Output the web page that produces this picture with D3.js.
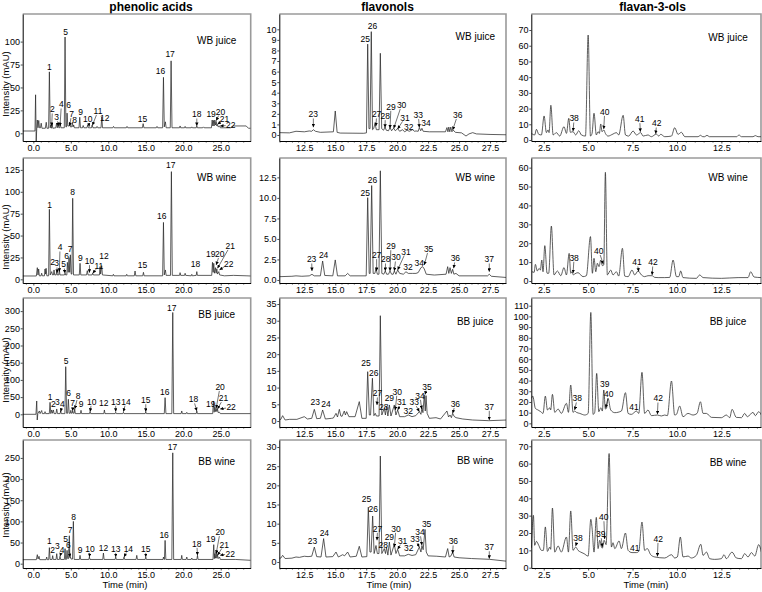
<!DOCTYPE html>
<html><head><meta charset="utf-8">
<script src="https://cdn.jsdelivr.net/npm/d3@7"></script>
<style>
body{margin:0;background:#fff}
svg{display:block}
text{font-family:"Liberation Sans",Arial,sans-serif}
</style></head><body>
<svg id="chart" width="762" height="592"></svg>
<script>
// ---------------- DATA ----------------
const columnTitles = ["phenolic acids", "flavonols", "flavan-3-ols"];
const sampleNames = ["WB juice", "WB wine", "BB juice", "BB wine"];
const xTickValues = [[0, 5, 10, 15, 20, 25], [12.5, 15, 17.5, 20, 22.5, 25, 27.5], [2.5, 5, 7.5, 10, 12.5]];
const yTickValues = [
  [[0, 25, 50, 75, 100], [0,1,2,3,4,5,6,7,8,9,10], [0,10,20,30,40,50,60,70]],
  [[0, 25, 50, 75, 100, 125], [0, 2.5, 5, 7.5, 10, 12.5], [0,10,20,30,40,50,60]],
  [[0, 50, 100, 150, 200, 250, 300], [0,5,10,15,20,25,30,35], [0,10,20,30,40,50,60,70,80,90,100,110]],
  [[0, 50, 100, 150, 200, 250], [0,5,10,15,20,25,30], [0,10,20,30,40,50,60,70]]
];

// chromatogram traces: [time (min), intensity (mAU)]
const paWBjuice = [[-1.42,2.5],[0.22,2.5],[0.3,42],[0.38,-9],[0.46,6],[0.53,14.5],[0.62,6],[0.72,14],[0.82,6],[0.95,6],[1.05,11],[1.15,5.5],[1.6,5.5],[1.72,12],[1.82,5.5],[2.04,5.5],[2.14,67],[2.25,6],[2.32,9],[2.4,5.5],[2.5,10],[2.6,5.5],[3.0,6],[3.1,11],[3.2,6],[3.3,10],[3.4,6],[3.5,6],[3.58,11],[3.68,6],[4.13,6],[4.23,105],[4.34,7],[4.43,7],[4.5,22],[4.6,8],[4.78,8],[4.86,12],[4.95,7],[5.12,7],[5.21,12],[5.3,7],[5.38,9],[5.48,6],[6.09,6],[6.19,17.5],[6.29,6],[6.55,6],[6.65,8.5],[6.75,6],[7.15,6],[7.25,9],[7.35,6],[7.75,6],[7.85,9],[7.95,6],[8.4,6],[8.5,7.5],[8.6,6],[9.03,6],[9.13,18],[9.23,6],[10.6,6],[10.7,7.5],[10.8,6],[12.4,6],[12.5,7.5],[12.6,6],[14.55,6],[14.65,10.5],[14.75,6],[16.4,6],[16.5,7.5],[16.6,6],[17.25,6],[17.36,61],[17.47,7],[17.62,12.5],[17.72,6],[18.27,6],[18.38,79],[18.5,6],[19.5,6],[19.58,8],[19.66,6],[20.17,6],[20.25,7.5],[20.33,6],[21.06,6],[21.14,7],[21.22,6],[21.73,6],[21.81,8],[21.89,6],[22.6,6],[22.7,7],[22.8,6],[23.76,6],[23.86,14.5],[23.95,8],[24.03,14],[24.12,8],[24.21,14.5],[24.3,9],[24.39,13],[24.48,8],[24.57,9.5],[24.66,7],[24.84,8],[24.95,6],[26.3,6],[26.7,8],[28.4,8],[28.7,5.5],[29.0,5.5]];
const paWBwine = [[-1.42,3.8],[0.4,3.8],[0.53,13.3],[0.62,5],[0.71,11.8],[0.8,4],[1.03,4],[1.11,7],[1.2,4],[1.48,4],[1.56,11.8],[1.63,6],[1.7,12.6],[1.8,4],[2.04,4],[2.14,80],[2.25,5],[2.45,8.8],[2.55,5],[2.68,5],[2.76,10.7],[2.85,5],[3.04,5],[3.12,9.5],[3.2,5],[3.39,5],[3.47,11],[3.55,5],[4.15,5],[4.23,7],[4.31,5],[4.47,5],[4.54,19.4],[4.65,8],[4.76,24.8],[4.85,8],[4.94,28],[5.05,6],[5.15,6],[5.25,92.6],[5.36,5],[6.13,5],[6.23,18.3],[6.33,5],[7.1,5],[7.2,9.9],[7.3,5],[7.84,5],[7.92,7],[8.0,5],[8.82,5],[8.9,14.5],[8.98,6],[9.12,15.6],[9.22,5],[10.6,4],[10.68,5.7],[10.76,4],[12.38,4],[12.46,5.7],[12.54,4],[13.47,4],[13.57,9.5],[13.67,4],[14.6,4],[14.69,8],[14.78,4],[17.25,4],[17.36,65],[17.47,5],[17.62,10.7],[17.72,4.5],[18.3,4.5],[18.42,123],[18.54,4.5],[19.5,4.5],[19.58,7.6],[19.66,4.5],[20.17,4.5],[20.25,6.9],[20.33,4.5],[21.06,4],[21.14,5.7],[21.22,4],[21.73,4.5],[21.81,8.8],[21.89,4.5],[23.8,4.5],[23.9,19.4],[23.99,8],[24.07,18.3],[24.17,7],[24.3,13.3],[24.39,7],[24.48,12],[24.57,6],[24.74,8.8],[24.85,5],[25.5,4],[26.7,4.5],[28.5,4],[29.0,3.8]];
const paBBjuice = [[-1.42,0],[0.35,0],[0.45,38.7],[0.52,-16.5],[0.6,2],[0.8,9.7],[0.9,2],[1.11,11],[1.2,2],[1.48,2],[1.56,7.7],[1.64,2],[2.13,2],[2.23,34.8],[2.33,2],[2.45,12.6],[2.55,3],[2.67,12.6],[2.77,2],[3.02,2],[3.12,15.5],[3.22,2],[3.57,2],[3.65,9.7],[3.73,2],[4.21,2],[4.32,138.4],[4.44,3],[4.57,3],[4.67,43.6],[4.78,3],[4.92,3],[5.0,11.6],[5.08,3],[5.17,3],[5.25,9.7],[5.33,3],[5.44,3],[5.52,15.5],[5.6,2],[6.28,2],[6.36,11.6],[6.44,2],[7.49,2],[7.57,7.7],[7.65,2],[9.4,2],[9.48,12.6],[9.56,2],[10.91,2],[10.99,6],[11.07,2],[11.94,2],[12.02,6],[12.1,2],[14.92,2],[15.0,7.7],[15.08,2],[17.47,2],[17.58,48.4],[17.69,2],[18.48,2],[18.6,296],[18.72,2],[19.72,2],[19.8,9.7],[19.88,2],[20.39,2],[20.47,5.8],[20.55,2],[21.73,2],[21.81,9.7],[21.89,2],[23.93,2],[24.03,38.7],[24.12,6],[24.21,22],[24.3,8],[24.39,17.4],[24.48,8],[24.57,15.5],[24.66,5],[24.84,6],[24.95,2],[29.0,2]];
const paBBwine = [[-1.42,9.5],[0.4,9.5],[0.53,21.3],[0.63,11],[0.76,17.4],[0.86,9.5],[1.7,9.5],[1.78,15.8],[1.86,9.5],[2.05,9.5],[2.14,37.9],[2.23,10],[2.5,10],[2.58,19],[2.66,10],[3.03,10],[3.12,23.7],[3.21,10],[3.48,10],[3.56,17.4],[3.64,10],[4.14,10],[4.23,35.5],[4.31,10],[4.4,10],[4.5,31.5],[4.58,12],[4.7,12],[4.8,66],[4.88,14],[4.95,15.8],[5.03,11],[5.23,11],[5.34,100],[5.45,10],[6.14,10],[6.23,19.7],[6.32,10],[7.4,10],[7.48,15.8],[7.56,10],[9.26,10],[9.35,25.2],[9.44,10],[10.91,10],[10.99,15.8],[11.07,10],[12.02,10],[12.1,15.8],[12.18,10],[13.71,10],[13.8,19.7],[13.89,10],[14.92,10],[15.0,15.8],[15.08,10],[17.3,10],[17.36,15.8],[17.44,10],[17.49,10],[17.58,55],[17.68,10],[18.48,10],[18.6,262],[18.72,10],[19.72,10],[19.8,19.7],[19.88,10],[20.39,10],[20.47,15.8],[20.55,10],[21.06,10],[21.14,13.4],[21.22,10],[21.82,10],[21.9,19.7],[21.98,10],[23.97,10],[24.07,45],[24.15,12],[24.21,23.7],[24.3,13],[24.39,27.6],[24.48,13],[24.57,21.3],[24.66,12],[24.84,15.8],[24.95,10],[27.0,10],[29.0,8]];

const flWBjuice = [[10.48,0.22],[11.3,0.2],[11.83,0.35],[12.5,0.3],[12.9,0.38],[13.1,0.35],[13.23,0.5],[13.4,0.35],[13.8,0.25],[14.85,0.3],[15.0,2.27],[15.15,0.25],[15.4,0.18],[17.3,0.16],[17.52,0.2],[17.62,8.6],[17.72,0.6],[17.81,0.6],[17.91,9.78],[18.01,0.5],[18.1,0.6],[18.21,1.1],[18.32,0.5],[18.54,0.5],[18.64,7.73],[18.75,0.6],[18.9,0.45],[19.02,0.75],[19.12,0.45],[19.3,0.4],[19.42,0.7],[19.55,0.4],[19.72,0.65],[19.85,0.4],[20.04,0.6],[20.2,0.35],[20.44,0.5],[20.6,0.3],[20.8,0.45],[20.98,0.35],[21.25,0.5],[21.4,0.35],[21.52,0.38],[21.7,0.35],[21.79,0.7],[21.9,0.4],[22.0,0.63],[22.1,0.35],[22.6,0.3],[23.9,0.3],[24.02,0.7],[24.1,0.3],[24.17,0.75],[24.25,0.3],[24.33,0.75],[24.42,0.3],[24.52,0.47],[24.7,0.25],[25.2,0.2],[25.56,-0.1],[25.8,0.1],[26.1,0.22],[26.4,0.1],[27.5,0.05],[28.84,0.02]];
const flWBwine = [[10.48,0.4],[11.5,0.45],[11.83,0.5],[12.3,0.45],[12.9,0.5],[13.12,0.69],[13.3,0.5],[13.8,0.5],[13.98,2.31],[14.15,0.55],[14.8,0.5],[15.0,2.44],[15.18,0.5],[15.8,0.5],[16.0,0.8],[16.2,0.5],[17.5,0.5],[17.62,10.03],[17.74,0.8],[17.82,0.8],[17.94,11.5],[18.06,0.8],[18.2,0.8],[18.29,1.4],[18.4,0.7],[18.53,0.7],[18.64,13.3],[18.76,0.8],[18.92,0.7],[19.04,1.1],[19.15,0.7],[19.3,0.7],[19.42,1.1],[19.55,0.7],[19.68,0.7],[19.77,1.1],[19.9,0.7],[20.04,1.22],[20.2,0.8],[20.5,0.7],[20.71,1.0],[20.9,0.8],[21.25,0.8],[21.52,0.8],[21.7,0.9],[21.92,1.5],[22.06,1.62],[22.19,1.34],[22.35,0.7],[23.0,0.6],[23.95,0.7],[24.08,1.62],[24.17,0.8],[24.27,1.5],[24.38,0.8],[24.48,1.3],[24.58,0.7],[24.75,0.8],[25.0,0.5],[27.3,0.5],[27.44,0.7],[27.6,0.45],[28.84,0.3]];
const flBBjuice = [[10.48,0.3],[10.6,0.5],[10.75,1.6],[10.95,0.3],[11.3,0.5],[11.9,0.5],[12.5,1.3],[12.75,0.6],[13.1,0.8],[13.31,3.5],[13.5,0.7],[13.8,0.8],[13.98,3.3],[14.2,0.6],[14.7,0.8],[14.85,0.9],[15.06,2.3],[15.18,1.2],[15.33,3.5],[15.45,1.5],[15.55,1.4],[15.73,3.0],[15.82,1.8],[15.92,2.8],[16.1,1.3],[16.6,1.3],[16.94,5.8],[17.15,0.8],[17.5,0.8],[17.62,14.76],[17.75,1.8],[17.85,1.8],[18.0,12.8],[18.12,1.6],[18.23,2.3],[18.32,1.5],[18.54,1.5],[18.64,31.5],[18.76,1.8],[18.96,3.8],[19.05,1.8],[19.14,4.3],[19.25,1.5],[19.37,4.8],[19.5,1.5],[19.77,4.8],[19.9,1.8],[20.04,3.3],[20.2,1.3],[20.6,1.3],[20.9,1.8],[21.2,1.3],[21.5,1.6],[21.79,2.8],[21.92,2.0],[22.0,4.0],[22.08,2.5],[22.19,7.8],[22.27,3.0],[22.33,7.6],[22.42,2.3],[22.6,0.8],[23.14,1.0],[23.5,0.6],[24.02,3.0],[24.15,1.2],[24.27,1.8],[24.38,1.0],[24.48,2.3],[24.6,1.4],[24.75,1.0],[25.3,0.6],[26.1,0.3],[27.4,0.1],[28.84,0.3]];
const flBBwine = [[10.48,1.0],[10.6,1.0],[10.75,1.74],[10.95,0.9],[11.5,1.0],[11.83,1.3],[12.1,1.2],[12.5,1.5],[12.8,1.4],[13.1,1.5],[13.31,3.9],[13.5,1.4],[13.85,1.3],[14.06,6.1],[14.25,1.3],[14.8,1.4],[15.06,2.6],[15.25,1.3],[15.6,1.9],[15.75,1.6],[16.0,2.6],[16.2,1.3],[16.7,1.5],[16.94,4.1],[17.15,1.3],[17.55,1.4],[17.67,14.3],[17.8,2.6],[17.9,2.6],[18.02,12.0],[18.14,2.2],[18.29,4.3],[18.4,2.2],[18.53,2.2],[18.64,27.65],[18.76,2.2],[18.96,3.5],[19.06,2.2],[19.14,3.8],[19.25,1.8],[19.37,5.2],[19.5,1.8],[19.77,4.6],[19.9,2.2],[20.04,3.3],[20.2,1.6],[20.6,1.6],[20.9,2.0],[21.2,1.7],[21.5,1.9],[21.79,3.9],[21.92,2.6],[22.0,4.3],[22.1,3.2],[22.25,8.5],[22.35,2.6],[22.5,1.6],[23.2,1.5],[23.9,1.3],[24.08,3.5],[24.2,1.3],[24.35,1.6],[24.48,2.6],[24.6,1.3],[25.0,1.1],[26.0,0.9],[27.44,0.7],[28.84,0.2]];

const faWBjuice = [[1.81,4.2],[1.99,3.2],[2.09,6.8],[2.22,3.6],[2.37,3.2],[2.52,15.3],[2.65,4.7],[2.74,6.4],[2.8,4.7],[2.9,22.1],[3.03,3.2],[3.21,4.7],[3.4,2.5],[3.64,8.5],[3.78,4.2],[3.91,13.8],[4.0,4.9],[4.15,5.3],[4.3,3.2],[4.47,5.9],[4.62,3.2],[4.85,2.5],[5.0,66.8],[5.13,2.5],[5.22,4.2],[5.33,17],[5.46,3.2],[5.56,5.3],[5.63,4.2],[5.71,10.2],[5.78,5.3],[5.88,6.4],[5.97,4.2],[6.12,2.5],[6.4,3.8],[6.59,4.7],[6.72,3.2],[6.97,15.7],[7.1,3.2],[7.28,2.5],[7.53,5.7],[7.72,3.2],[7.96,4.7],[8.09,2.5],[8.37,3.2],[8.56,2.1],[8.84,3.8],[8.97,2.5],[9.09,3.6],[9.31,2.1],[9.69,2.5],[9.87,7.8],[10.06,3.6],[10.25,4.9],[10.44,2.1],[11.19,2.1],[11.32,3.0],[11.45,2.1],[11.56,2.1],[11.69,3.0],[11.82,2.1],[13.36,2.1],[13.49,3.2],[13.63,2.1],[14.28,2.1],[14.41,2.8],[14.56,2.1],[14.75,2.1]];
const faWBwine = [[1.84,4.9],[1.96,4.6],[2.03,8.8],[2.14,5.3],[2.24,6.7],[2.31,5.8],[2.39,11.1],[2.46,4.9],[2.56,18.7],[2.69,4.1],[2.78,4.1],[2.93,29.1],[3.08,3.2],[3.27,5.3],[3.46,2.8],[3.64,7.1],[3.78,3.2],[3.93,14.6],[4.02,4.1],[4.09,4.9],[4.17,3.2],[4.24,3.7],[4.43,4.4],[4.71,2.3],[4.9,2.8],[5.13,23.5],[5.24,4.1],[5.33,12],[5.43,4.9],[5.52,9.4],[5.61,7.6],[5.71,11.1],[5.8,8.1],[5.88,8.5],[5.97,57.5],[6.08,3.2],[6.27,5.8],[6.4,3.2],[6.59,4.9],[6.72,2.6],[6.93,17.3],[7.06,2.6],[7.25,2.3],[7.47,5.8],[7.62,3.2],[7.81,5.3],[8.0,3.2],[8.18,2.3],[8.37,2.8],[8.6,2.8],[8.75,1.9],[8.94,1.8],[9.31,1.8],[9.59,1.9],[9.78,11.1],[9.97,2.3],[10.1,2.3],[10.21,5.3],[10.34,1.8],[11.09,1.4],[11.28,3.2],[11.47,1.8],[12.5,1.4],[13.44,1.8],[14.0,1.8],[14.15,4.9],[14.34,2.1],[14.75,1.8]];
const faBBjuice = [[1.81,23.4],[1.88,25.5],[2.03,14],[2.18,12.5],[2.33,10.9],[2.46,9.3],[2.59,25.5],[2.71,12.5],[2.84,14.6],[2.89,12.5],[2.99,27.1],[3.12,10.3],[3.31,13.4],[3.49,9.3],[3.78,18.7],[3.89,10.3],[4.02,35.8],[4.15,10.3],[4.24,11.5],[4.34,10.3],[4.53,9.3],[4.81,7.8],[5.0,9.3],[5.15,103.7],[5.28,8.4],[5.37,10.3],[5.48,46.7],[5.6,10.9],[5.71,14.6],[5.8,11.5],[5.88,31.2],[5.97,13.4],[6.03,14],[6.12,23.4],[6.27,12.5],[6.5,10],[6.87,11.5],[7.1,28.7],[7.25,9.3],[7.43,8.4],[7.72,11.5],[7.85,9.3],[8.03,47.7],[8.18,9.3],[8.37,12.5],[8.56,7.2],[8.9,7.8],[9.12,6.9],[9.31,7.8],[9.46,7.2],[9.69,39.6],[9.87,7.8],[9.97,8.4],[10.15,16.2],[10.34,6.2],[10.62,9.3],[10.9,7.8],[11.13,9.3],[11.32,20.2],[11.47,9.3],[11.66,9.3],[11.94,5.6],[12.5,5.3],[12.78,7.8],[12.97,5.3],[13.1,13.1],[13.34,5.6],[13.63,5.3],[13.81,9.3],[13.96,6.2],[14.28,10.3],[14.41,7.2],[14.6,10.9],[14.75,7.8]];
const faBBwine = [[1.81,11.5],[1.92,30.2],[1.99,12.9],[2.09,15.2],[2.22,12.9],[2.37,10],[2.48,10],[2.59,23.5],[2.71,9.4],[2.84,11.9],[2.89,10.6],[2.99,34.4],[3.12,9],[3.31,12.5],[3.49,9],[3.78,17.7],[3.89,9],[4.02,32.7],[4.15,10],[4.3,11.9],[4.43,10],[4.58,9],[4.77,8.1],[5.0,6.7],[5.15,27.9],[5.22,22.9],[5.33,9],[5.46,29],[5.56,11],[5.65,15.8],[5.75,11.9],[5.8,11.3],[5.9,15.8],[6.01,13.3],[6.18,65.8],[6.31,11.9],[6.4,14.4],[6.5,11],[6.74,15.4],[6.87,11],[7.1,20],[7.25,10],[7.47,8.7],[7.72,8.7],[7.85,9.4],[8.03,26.3],[8.18,10],[8.33,11],[8.52,7.5],[8.75,6.2],[9.31,5.6],[9.69,7.5],[9.87,5.6],[10.02,6.2],[10.19,17.7],[10.34,6.2],[10.62,6.7],[10.81,5.6],[11.09,7.1],[11.34,13.5],[11.47,7.1],[11.66,9],[11.84,5.2],[12.12,4.8],[12.5,5.2],[12.65,7.5],[12.78,5.2],[13.1,9],[13.34,5.6],[13.63,5.2],[13.81,8.1],[14.0,6.2],[14.19,8.7],[14.38,6.7],[14.6,13.3],[14.75,9]];

// peak annotations: [number, label time, label intensity, pointer time, pointer intensity]
const pkPaWBjuice = [["1",2.14,72.7,null,null],["2",2.54,26.2,2.45,8],["3",3.12,17.5,3.34,8],["4",3.74,31.6,3.56,8],["5",4.32,110,null,null],["6",4.72,31,null,null],["7",5.1,21,4.85,8],["8",5.5,14,null,null],["9",6.3,23.6,null,null],["10",7.25,15.3,7.48,7.3],["11",8.63,24.4,7.88,8.7],["12",9.52,17,null,null],["15",14.55,16,null,null],["16",16.96,68,null,null],["17",18.25,86.5,null,null],["18",21.81,20.7,21.81,8],["19",23.72,20.7,null,null],["20",24.97,23.6,24.39,13.8],["21",25.5,15.3,24.57,9.8],["22",26.35,8.7,24.92,8]];
const pkPaWBwine = [["1",2.18,85,null,null],["2",2.58,20.2,null,null],["3",3.12,18.3,3.2,7.6],["4",3.56,36.6,3.47,8.8],["5",4.05,17.1,4.23,6.9],["6",4.45,26.7,null,null],["7",4.9,34.3,null,null],["8",5.25,99.4,null,null],["9",6.28,24,null,null],["10",7.5,21,7.48,7.6],["11",8.75,15.5,7.92,6.9],["12",9.43,26.7,null,null],["15",14.55,16.4,null,null],["16",17.13,72.8,null,null],["17",18.34,130.7,null,null],["18",21.63,17.5,null,null],["19",23.68,29,null,null],["20",24.88,29,24.39,16.4],["21",26.26,38,24.57,12.6],["22",26.08,17.9,24.83,10.7]];
const pkPaBBjuice = [["1",2.23,51,null,null],["2",2.67,29,null,null],["3",3.2,35,null,null],["4",3.87,29,3.65,7.7],["5",4.36,155,null,null],["6",4.72,61,null,null],["7",5.25,32,5.25,9.7],["8",5.96,53,5.52,15.5],["9",6.36,29,null,null],["10",7.79,36.8,7.57,7.7],["12",9.39,32,null,null],["13",10.99,36.8,10.99,7.7],["14",12.37,36.8,12.02,7.7],["15",15.0,41.6,15.0,7.7],["16",17.53,66,null,null],["17",18.47,308,null,null],["18",21.36,43.6,21.81,9.7],["19",23.68,29,null,null],["20",24.92,80,24.39,17.4],["21",25.37,46.5,24.57,15.5],["22",26.39,20.3,24.92,15.5]];
const pkPaBBwine = [["1",2.14,52.8,null,null],["2",2.58,31.5,null,null],["3",3.2,41.8,null,null],["4",3.83,33,3.56,17.4],["5",4.32,59,null,null],["6",4.67,43.4,4.9,15.8],["7",4.9,80,null,null],["8",5.38,110,null,null],["9",6.23,31.5,null,null],["10",7.57,35.5,7.48,15.8],["12",9.35,37,null,null],["13",10.99,35.5,10.99,15.8],["14",12.68,35.5,12.1,15.8],["15",15.0,35.5,15.0,15.8],["16",17.45,68.6,null,null],["17",18.56,276,null,null],["18",21.81,47.3,21.9,19.7],["19",23.68,59,null,null],["20",24.92,75,24.39,23.7],["21",25.46,45,24.57,19.7],["22",26.26,23.7,24.92,19.7]];
const pkFlWBjuice = [["23",13.23,1.96,13.23,0.73],["25",17.43,9.1,null,null],["26",18.0,10.3,null,null],["27",18.34,1.96,18.29,0.85],["28",19.04,1.8,19.02,0.7],["29",19.5,2.68,19.42,0.63],["30",20.36,2.84,19.72,0.63],["31",20.63,1.64,20.04,0.57],["32",20.93,0.79,null,null],["33",21.71,1.9,21.79,0.7],["34",22.33,1.1,null,null],["36",24.89,1.9,24.48,0.47]];
const pkFlWBwine = [["23",13.09,2.52,13.12,1.1],["24",14.06,3.05,null,null],["25",17.43,10.6,null,null],["26",18.0,12.2,null,null],["27",18.34,3.05,18.34,1.1],["28",19.07,2.52,19.04,1.1],["29",19.5,4.14,19.42,1.1],["30",19.9,2.76,19.77,1.1],["31",20.71,3.45,20.04,1.22],["32",20.87,1.54,null,null],["34",21.79,2.03,null,null],["35",22.54,3.78,22.19,1.83],["36",24.7,2.64,24.56,1.42],["37",27.44,2.52,27.44,1.0]];
const pkFlBBjuice = [["23",13.39,5.8,null,null],["24",14.25,5.0,null,null],["25",17.48,17.4,null,null],["26",18.1,14.5,null,null],["27",18.42,8.3,18.37,4.8],["28",18.91,4.1,null,null],["29",19.37,6.8,null,null],["30",20.0,8.8,19.85,3.3],["31",20.36,5.6,20.04,3.3],["32",20.9,3.1,null,null],["33",21.38,5.6,21.79,2.8],["34",21.84,7.6,21.98,3.6],["35",22.41,10.3,22.25,7.9],["36",24.7,5.1,24.48,2.3],["37",27.44,4.3,27.44,0.3]];
const pkFlBBwine = [["23",13.17,5.5,null,null],["24",14.12,7.65,null,null],["25",17.53,16.3,null,null],["26",18.07,13.7,null,null],["27",18.42,8.7,18.37,5.65],["28",18.88,4.5,null,null],["29",19.37,6.5,null,null],["30",19.9,8.7,19.77,3.9],["31",20.44,5.5,20.04,3.3],["32",20.93,3.65,null,null],["33",21.44,5.9,21.79,3.9],["34",21.84,7.8,22.0,4.35],["35",22.38,10.0,null,null],["36",24.54,5.4,24.48,2.2],["37",27.44,3.9,27.44,0.87]];
const pkFaWBjuice = [["38",4.21,13.8,4.15,5.6],["40",5.93,18,5.88,7],["41",7.9,13.4,7.94,5.2],["42",8.86,10.6,8.8,3.9]];
const pkFaWBwine = [["38",4.21,12.4,4.15,4.2],["40",5.6,15.9,5.85,9],["41",7.75,9.9,7.85,5],["42",8.65,9.9,8.6,3.2]];
const pkFaBBjuice = [["38",4.39,23.4,4.24,12.5],["39",5.93,36.4,null,null],["40",6.16,27.1,5.99,14.5],["41",7.58,15.6,null,null],["42",8.94,23.4,8.9,8.5]];
const pkFaBBwine = [["38",4.43,17.1,4.3,12.5],["39",5.71,19.4,5.8,12],["40",5.88,29.2,5.93,16.5],["41",7.62,11.3,null,null],["42",8.94,16.7,8.9,6.5]];

const traces = [[paWBjuice, flWBjuice, faWBjuice],[paWBwine, flWBwine, faWBwine],[paBBjuice, flBBjuice, faBBjuice],[paBBwine, flBBwine, faBBwine]];
const peakLabels = [[pkPaWBjuice, pkFlWBjuice, pkFaWBjuice],[pkPaWBwine, pkFlWBwine, pkFaWBwine],[pkPaBBjuice, pkFlBBjuice, pkFaBBjuice],[pkPaBBwine, pkFlBBwine, pkFaBBwine]];

// ---------------- LAYOUT ----------------
const COLS = [
  {x0:22.7, x1:250.7, dom:[-1.42,29.0], minor:1, titleX:151, nameX:216.7, timeX:125, curve:d3.curveLinear},
  {x0:279.3, x1:506, dom:[10.48,28.79], minor:0.5, titleX:387.5, nameX:475.3, timeX:389, curve:d3.curveLinear},
  {x0:531.3, x1:761, dom:[1.80,14.73], minor:0.5, titleX:652.5, nameX:728, timeX:646, curve:d3.curveMonotoneX}
];
const ROWS = [{y0:14,y1:141},{y0:158,y1:283},{y0:298,y1:427},{y0:440,y1:568}];
const Y_DOM = [
  [[-8.4,130.1],[-0.57,11.45],[-0.64,80.2]],
  [[-4.2,138.6],[-0.37,14.86],[-1.06,65.1]],
  [[-36.9,338.1],[-1.79,36.8],[-3.4,117.2]],
  [[-10.2,292.4],[-1.57,31.83],[-0.17,73.6]]
];
const NAME_Y = [[40,36,37],[177.7,177.7,177.7],[314.5,321,321],[461.5,460.5,462]];
const YLAB_Y = [84,237,370,505];
const fmt1 = d3.format(".1f"), fmt0 = d3.format("d");
const NARROW = "'Liberation Sans Narrow','Liberation Sans',Arial,sans-serif";

const svg = d3.select("#chart");
const defs = svg.append("defs");
defs.append("marker").attr("id","ah").attr("viewBox","0 0 10 10").attr("refX",10).attr("refY",5)
  .attr("markerWidth",3.6).attr("markerHeight",3.4).attr("markerUnits","userSpaceOnUse").attr("orient","auto")
  .append("path").attr("d","M0,0L10,5L0,10Z").attr("fill","#000");

// column titles and axis titles
COLS.forEach((c,ci)=>{
  svg.append("text").attr("x",c.titleX).attr("y",10.5).attr("text-anchor","middle")
    .attr("font-size",12).attr("font-weight","bold").text(columnTitles[ci]);
  svg.append("text").attr("x",c.timeX).attr("y",588).attr("text-anchor","middle")
    .attr("font-size",9.5).text("Time (min)");
});
ROWS.forEach((r,ri)=>{
  svg.append("text").attr("transform",`translate(8.5,${YLAB_Y[ri]}) rotate(-90)`).attr("text-anchor","middle")
    .attr("font-size",9.5).text("Intensity (mAU)");
});

ROWS.forEach((r,ri)=>{
  COLS.forEach((c,ci)=>{
    const x = d3.scaleLinear().domain(c.dom).range([c.x0,c.x1]);
    const y = d3.scaleLinear().domain(Y_DOM[ri][ci]).range([r.y1,r.y0]);
    const g = svg.append("g");
    const cid = `clip${ri}${ci}`;
    defs.append("clipPath").attr("id",cid).append("rect")
      .attr("x",c.x0).attr("y",r.y0).attr("width",c.x1-c.x0).attr("height",r.y1-r.y0);

    // frame top/right
    g.append("path").attr("d",`M${c.x0},${r.y0}H${c.x1}V${r.y1}`).attr("fill","none")
      .attr("stroke","#9a9a9a").attr("stroke-width",1.6);

    // trace
    g.append("path").datum(traces[ri][ci]).attr("clip-path",`url(#${cid})`)
      .attr("fill","none").attr("stroke","#2a2a2a").attr("stroke-width",0.75).attr("stroke-linejoin","round")
      .attr("d", d3.line().x(d=>x(d[0])).y(d=>y(d[1])).curve(c.curve));

    // minor x ticks
    const majors = xTickValues[ci];
    const minors = d3.range(Math.ceil(c.dom[0]/c.minor)*c.minor, c.dom[1], c.minor)
      .filter(v=>!majors.some(m=>Math.abs(m-v)<1e-6));
    const gm = g.append("g").attr("transform",`translate(0,${r.y1})`)
      .call(d3.axisBottom(x).tickValues(minors).tickSize(1.6).tickFormat(""));
    gm.select(".domain").remove();
    gm.selectAll("line").attr("stroke","#000").attr("stroke-width",0.6);

    const gx = g.append("g").attr("transform",`translate(0,${r.y1})`)
      .call(d3.axisBottom(x).tickValues(majors).tickSize(2.5).tickSizeOuter(0).tickPadding(1.5).tickFormat(fmt1));
    gx.select(".domain").attr("stroke","#000").attr("stroke-width",1);
    gx.selectAll("line").attr("stroke","#000").attr("stroke-width",0.7);
    gx.selectAll("text").attr("font-family","'Liberation Sans',Arial,sans-serif").attr("font-size",9).attr("fill","#000");

    const yt = yTickValues[ri][ci];
    const yf = (ri===1 && ci===1) ? fmt1 : fmt0;
    const gy = g.append("g").attr("transform",`translate(${c.x0},0)`)
      .call(d3.axisLeft(y).tickValues(yt).tickSize(2).tickSizeOuter(0).tickPadding(0.8).tickFormat(yf));
    gy.select(".domain").attr("stroke","#000").attr("stroke-width",1);
    gy.selectAll("line").attr("stroke","#000").attr("stroke-width",0.7);
    gy.selectAll("text").attr("font-family",NARROW).attr("font-size",9).attr("fill","#000");

    // sample name
    g.append("text").attr("x",c.nameX).attr("y",NAME_Y[ri][ci]).attr("dy","0.35em").attr("text-anchor","middle")
      .attr("font-size",10).attr("fill","#000").text(sampleNames[ri]);

    // peak labels
    peakLabels[ri][ci].forEach(p=>{
      const lx = x(p[1]), ly = y(p[2]);
      g.append("text").attr("x",lx).attr("y",ly).attr("dy","0.35em").attr("text-anchor","middle")
        .attr("font-family",NARROW).attr("font-size",8.5).attr("fill","#000").text(p[0]);
      if (p[3] !== null) {
        const tx = x(p[3]), ty = y(p[4]);
        const dx = tx-lx, dy = ty-ly, len = Math.hypot(dx,dy);
        const ux = dx/len, uy = dy/len;
        const rx = p[0].length>1 ? 5.2 : 3.2, ry = 4.2;
        const k = 1/Math.sqrt((ux/rx)**2 + (uy/ry)**2);
        g.append("line").attr("x1",lx+ux*k).attr("y1",ly+uy*k).attr("x2",tx).attr("y2",ty)
          .attr("stroke","#000").attr("stroke-width",0.55).attr("marker-end","url(#ah)");
      }
    });
  });
});
</script>
</body></html>
